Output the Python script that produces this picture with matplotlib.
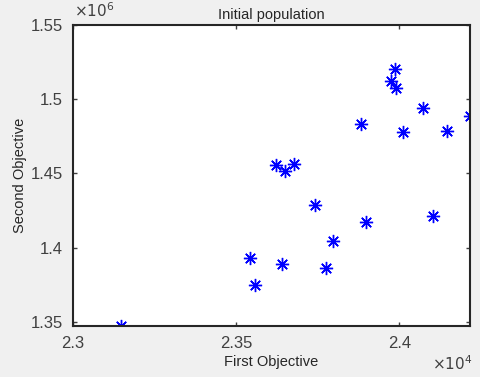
import matplotlib
matplotlib.use('Agg')
import matplotlib.pyplot as plt
from matplotlib.ticker import FuncFormatter

# objective values
first_obj = [23147, 23543, 23558, 23623, 23650, 23678, 23641, 23742, 23776, 23797,
             23883, 23899, 23985, 23975, 23990, 24011, 24071, 24145, 24216, 24102]
second_obj = [1347300, 1393300, 1375100, 1455400, 1452000, 1456700, 1389200, 1429100,
              1386500, 1404700, 1483000, 1417500, 1520400, 1512500, 1507200, 1477800,
              1494400, 1478700, 1488700, 1421100]

xticks = [23000, 23500, 24000]
yticks = [1350000, 1400000, 1450000, 1500000, 1550000]

txt = '#262626'
plt.rcParams['font.family'] = ['Liberation Sans', 'DejaVu Sans']

fig = plt.figure(figsize=(4.8, 3.77), dpi=100, facecolor='#f0f0f0')
ax = fig.add_axes([0.152, 0.135, 0.827, 0.799])
ax.set_facecolor('white')

ax.plot(first_obj, second_obj, linestyle='none', marker=(8, 2, 0), color='blue',
        markersize=9.5, markeredgewidth=1.0)

ax.set_xlim(23000, max(first_obj))
ax.set_ylim(min(second_obj), 1550000)
ax.set_xticks(xticks)
ax.set_yticks(yticks)
ax.xaxis.set_major_formatter(FuncFormatter(lambda v, p: ('%g' % (v / 1e4))))
ax.yaxis.set_major_formatter(FuncFormatter(lambda v, p: ('%g' % (v / 1e6))))
ax.tick_params(direction='in', top=True, right=True, length=3, width=1,
               labelsize=12, colors='#404040', pad=7)
for s in ax.spines.values():
    s.set_color(txt)
    s.set_linewidth(1.5)

ax.set_title('Initial population', fontsize=10.5, color=txt, pad=4)
ax.set_xlabel('First Objective', fontsize=10.5, color=txt, labelpad=3)
ax.set_ylabel('Second Objective', fontsize=10.5, color=txt, labelpad=3)

fig.text(0.155, 0.948, '$\\times10^6$', fontsize=11, color='#404040', ha='left', va='bottom')
fig.text(0.985, 0.01, '$\\times10^4$', fontsize=11, color='#404040', ha='right', va='bottom')

fig.savefig('out.png', dpi=100, facecolor=fig.get_facecolor())
